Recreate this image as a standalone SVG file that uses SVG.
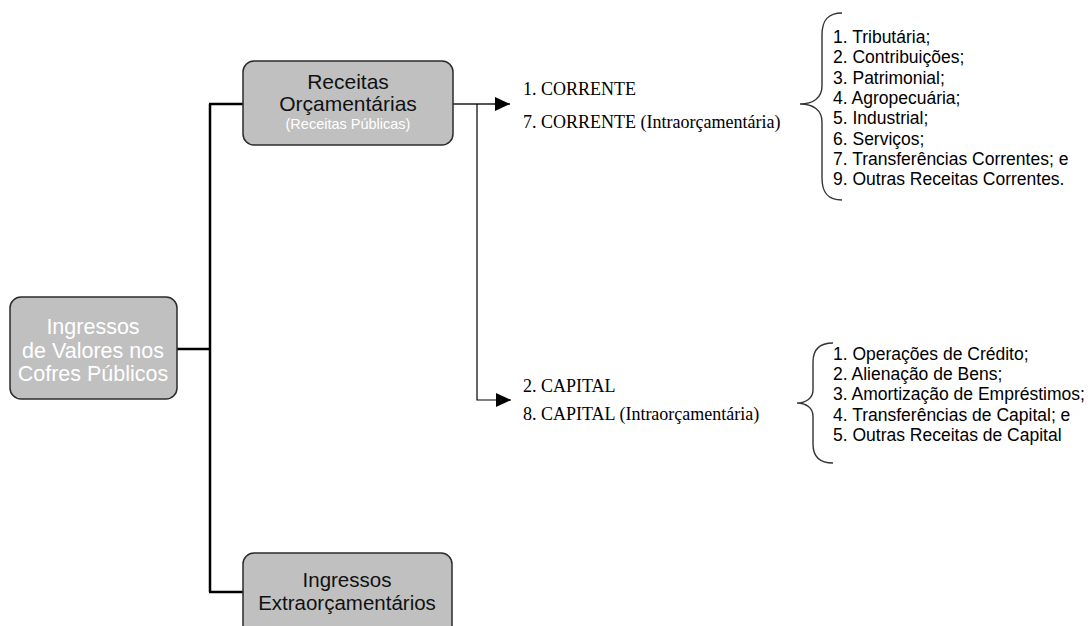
<svg xmlns="http://www.w3.org/2000/svg" width="1092" height="626" viewBox="0 0 1092 626">
<style>
.box{fill:#c0c0c0;stroke:#2b2b2b;stroke-width:1.5}
.bt{font-family:"Liberation Sans",Arial,sans-serif;text-anchor:middle}
.w{fill:#ffffff}
.k{fill:#111111}
.ser{font-family:"Liberation Serif","Times New Roman",serif;font-size:18px;fill:#000}
.lst{font-family:"Liberation Sans",Arial,sans-serif;font-size:17.5px;fill:#000}
.trunk{fill:none;stroke:#000;stroke-width:2.5}
.thin{fill:none;stroke:#000;stroke-width:1.2}
.brace{fill:none;stroke:#333;stroke-width:1.4}
</style>
<defs>
<marker id="ah" markerUnits="userSpaceOnUse" markerWidth="16" markerHeight="14" refX="15" refY="7" orient="auto">
<path d="M0,0 L15,7 L0,14 Z" fill="#000"/>
</marker>
</defs>
<g id="connectors">
<path class="trunk" d="M177,349 H210"/>
<path class="trunk" d="M210,104 V592"/>
<path class="trunk" d="M209,104 H243"/>
<path class="trunk" d="M209,592 H243"/>
<path d="M453,104 H510" fill="none" stroke="#555" stroke-width="1.8" marker-end="url(#ah)"/>
<path class="thin" d="M477,104 V400 H511" marker-end="url(#ah)"/>
<path class="brace" d="M842,13 C828,13 822,20 822,35 L822,86 C822,98 813,104 800,104 C813,104 822,110 822,122 L822,178 C822,193 828,200 842,200"/>
<path class="brace" d="M833,343 C819,343 813,350 813,362 L813,390 C813,398 806,403 797,403 C806,403 813,408 813,416 L813,444 C813,456 819,463 833,463"/>
</g>
<g id="ingressos">
<rect class="box" x="10" y="297" width="167" height="102" rx="11"/>
<text class="bt w" font-size="21.5"><tspan x="93" y="334">Ingressos</tspan><tspan x="93" y="358">de Valores nos</tspan><tspan x="93" y="381">Cofres Públicos</tspan></text>
</g>
<g id="receitas">
<rect class="box" x="243" y="61" width="210" height="84" rx="11"/>
<text class="bt k" font-size="21"><tspan x="348" y="89">Receitas</tspan><tspan x="348" y="111">Orçamentárias</tspan></text>
<text class="bt w" font-size="14.5" x="348" y="129">(Receitas Públicas)</text>
</g>
<g id="extra">
<rect class="box" x="243" y="553" width="209" height="90" rx="11"/>
<text class="bt k" font-size="20.5"><tspan x="347" y="587">Ingressos</tspan><tspan x="347" y="610">Extraorçamentários</tspan></text>
</g>
<g id="corrente">
<text class="ser" x="523" y="95">1. CORRENTE</text>
<text class="ser" x="523" y="128">7. CORRENTE (Intraorçamentária)</text>
</g>
<g id="capital">
<text class="ser" x="523" y="392">2. CAPITAL</text>
<text class="ser" x="523" y="420">8. CAPITAL (Intraorçamentária)</text>
</g>
<g id="lista-corrente">
<text class="lst"><tspan x="833" y="43">1. Tributária;</tspan><tspan x="833" y="63.3">2. Contribuições;</tspan><tspan x="833" y="83.6">3. Patrimonial;</tspan><tspan x="833" y="103.9">4. Agropecuária;</tspan><tspan x="833" y="124.2">5. Industrial;</tspan><tspan x="833" y="144.5">6. Serviços;</tspan><tspan x="833" y="164.8">7. Transferências Correntes; e</tspan><tspan x="833" y="185.1">9. Outras Receitas Correntes.</tspan></text>
</g>
<g id="lista-capital">
<text class="lst"><tspan x="833" y="360">1. Operações de Crédito;</tspan><tspan x="833" y="380.2">2. Alienação de Bens;</tspan><tspan x="833" y="400.4">3. Amortização de Empréstimos;</tspan><tspan x="833" y="420.6">4. Transferências de Capital; e</tspan><tspan x="833" y="440.8">5. Outras Receitas de Capital</tspan></text>
</g>
</svg>
